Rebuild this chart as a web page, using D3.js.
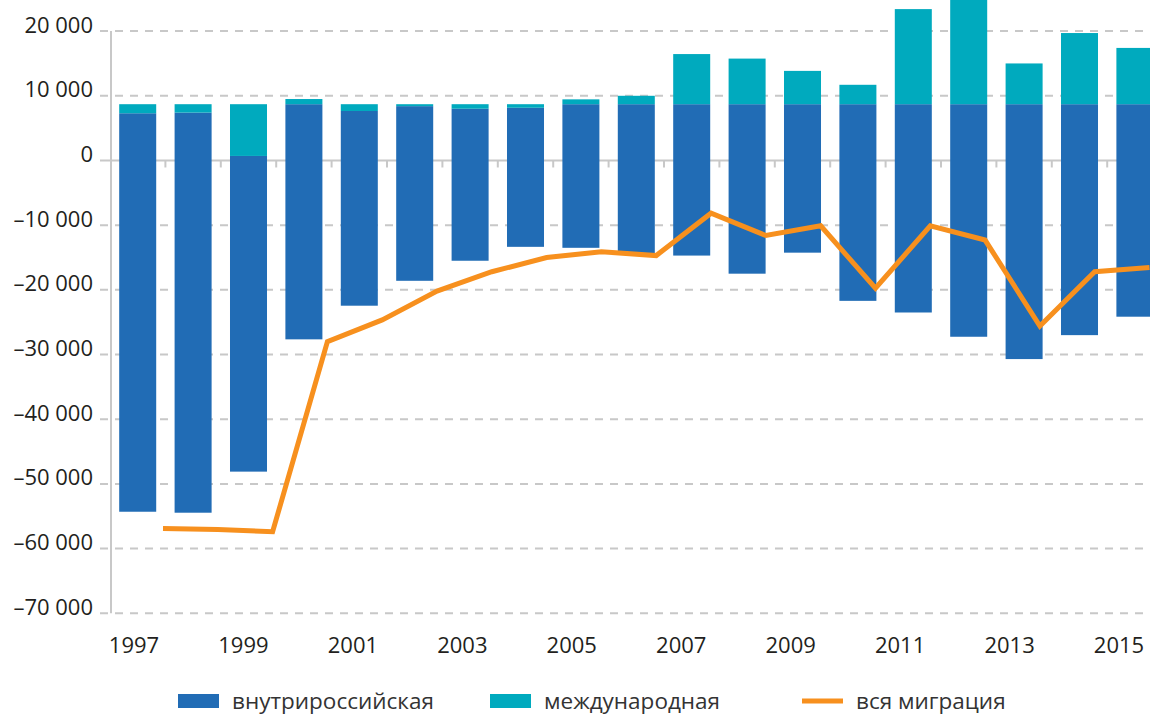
<!DOCTYPE html>
<html>
<head>
<meta charset="utf-8">
<script src="https://cdn.jsdelivr.net/npm/d3@7"></script>
<style>
  body { margin: 0; background: #fff; }
  text { font-family: "Open Sans", sans-serif; fill: #231F20; }
</style>
</head>
<body>
<script>
// years on the x axis
var years = [1997, 1998, 1999, 2000, 2001, 2002, 2003, 2004, 2005, 2006,
             2007, 2008, 2009, 2010, 2011, 2012, 2013, 2014, 2015];

// where the dark bar starts (top of the internal migration bar)
var internalTop = [7300, 7400, 700, 8700, 7650, 8400, 8000, 8150, 8700, 8700,
                   8700, 8700, 8700, 8700, 8700, 8700, 8700, 8700, 8700];

// bottom of the internal migration bar
var internalBottom = [-54300, -54450, -48100, -27650, -22450, -18600, -15500, -13350, -13500, -14300,
                      -14700, -17500, -14250, -21700, -23500, -27250, -30700, -27000, -24150];

// top of the international migration bar (it starts where the dark bar starts)
var internationalTop = [8700, 8700, 8700, 9500, 8700, 8700, 8700, 8700, 9450, 10000,
                        16450, 15750, 13850, 11700, 23400, 25300, 15000, 19700, 17400];

// total migration line
var totalMigration = [-56900, -57050, -57400, -28000, -24650, -20200, -17200, -15000, -14100, -14700,
                      -8150, -11600, -10100, -19750, -10100, -12300, -25600, -17200, -16550];

var yTicks = [20000, 10000, 0, -10000, -20000, -30000, -40000, -50000, -60000, -70000];
var xLabels = [1997, 1999, 2001, 2003, 2005, 2007, 2009, 2011, 2013, 2015];

var legendItems = [
  {name: "внутрироссийская", color: "#216CB5", type: "rect"},
  {name: "международная", color: "#00AABE", type: "rect"},
  {name: "вся миграция", color: "#F7901E", type: "line"}
];

var width = 1150, height = 715;

var svg = d3.select("body").append("svg")
  .attr("width", width)
  .attr("height", height);

var y = d3.scaleLinear().domain([-70000, 20000]).range([613.3, 31.1]);

// bars
var x = d3.scaleBand().domain(years).range([110, 110 + 19 * 55.4])
  .paddingInner(0.332).paddingOuter(0.166);

// the labels and the line sit on a slightly tighter grid than the bars
var xLab = d3.scalePoint().domain(years).range([134, 1119]);
var xLine = d3.scalePoint().domain(years).range([163, 1149.5]);

var fmt = function(v) {
  var s = d3.format(",")(Math.abs(v)).replace(/,/g, " ");
  return (v < 0 ? "\u2013" : "") + s;
};

// dashed grid
svg.append("g").selectAll("line")
  .data(yTicks.filter(function(d) { return d !== 0; }))
  .enter().append("line")
  .attr("x1", 100).attr("x2", width)
  .attr("y1", function(d) { return y(d); })
  .attr("y2", function(d) { return y(d); })
  .attr("stroke", "#C8C8C8")
  .attr("stroke-width", 2)
  .attr("stroke-dasharray", "8,7");

// vertical axis line
svg.append("line")
  .attr("x1", 111).attr("x2", 111)
  .attr("y1", y(20000)).attr("y2", y(-70000))
  .attr("stroke", "#C8C8C8").attr("stroke-width", 2);

// zero line with small ticks between the categories
svg.append("line")
  .attr("x1", 100).attr("x2", width)
  .attr("y1", y(0)).attr("y2", y(0))
  .attr("stroke", "#C8C8C8").attr("stroke-width", 2);

var gap = (x.step() - x.bandwidth()) / 2;
svg.append("g").selectAll("line")
  .data(years.slice(1))
  .enter().append("line")
  .attr("x1", function(d) { return x(d) - gap; })
  .attr("x2", function(d) { return x(d) - gap; })
  .attr("y1", y(0)).attr("y2", y(0) + 7)
  .attr("stroke", "#C8C8C8").attr("stroke-width", 2);

// y labels
svg.append("g").selectAll("text")
  .data(yTicks)
  .enter().append("text")
  .attr("x", 93)
  .attr("y", function(d) { return y(d) + 1.5; })
  .attr("text-anchor", "end")
  .style("font-size", "22px")
  .text(fmt);

// x labels
svg.append("g").selectAll("text")
  .data(xLabels)
  .enter().append("text")
  .attr("x", function(d) { return xLab(d); })
  .attr("y", 653)
  .attr("text-anchor", "middle")
  .style("font-size", "22px")
  .text(function(d) { return d; });

// internal migration bars
svg.append("g").selectAll("rect")
  .data(years)
  .enter().append("rect")
  .attr("x", function(d) { return x(d); })
  .attr("width", x.bandwidth())
  .attr("y", function(d, i) { return y(internalTop[i]); })
  .attr("height", function(d, i) { return y(internalBottom[i]) - y(internalTop[i]); })
  .attr("fill", "#216CB5");

// international migration bars
svg.append("g").selectAll("rect")
  .data(years)
  .enter().append("rect")
  .attr("x", function(d) { return x(d); })
  .attr("width", x.bandwidth())
  .attr("y", function(d, i) { return y(internationalTop[i]); })
  .attr("height", function(d, i) { return y(internalTop[i]) - y(internationalTop[i]); })
  .attr("fill", "#00AABE");

// total line
var line = d3.line()
  .x(function(d, i) { return xLine(years[i]); })
  .y(function(d) { return y(d); });

svg.append("path")
  .datum(totalMigration)
  .attr("d", line)
  .attr("fill", "none")
  .attr("stroke", "#F7901E")
  .attr("stroke-width", 5)
  .attr("stroke-linejoin", "miter");

// legend
var legendX = [178, 490, 802];
var legend = svg.append("g").selectAll("g")
  .data(legendItems)
  .enter().append("g")
  .attr("transform", function(d, i) { return "translate(" + legendX[i] + ",701)"; });

legend.append("rect")
  .attr("x", 0)
  .attr("y", function(d) { return d.type === "line" ? -2.5 : -7; })
  .attr("width", 41)
  .attr("height", function(d) { return d.type === "line" ? 5 : 14; })
  .attr("fill", function(d) { return d.color; });

legend.append("text")
  .attr("x", 54)
  .attr("y", 8)
  .style("font-size", "22.5px")
  .style("fill", "#333")
  .text(function(d) { return d.name; });
</script>
</body>
</html>
